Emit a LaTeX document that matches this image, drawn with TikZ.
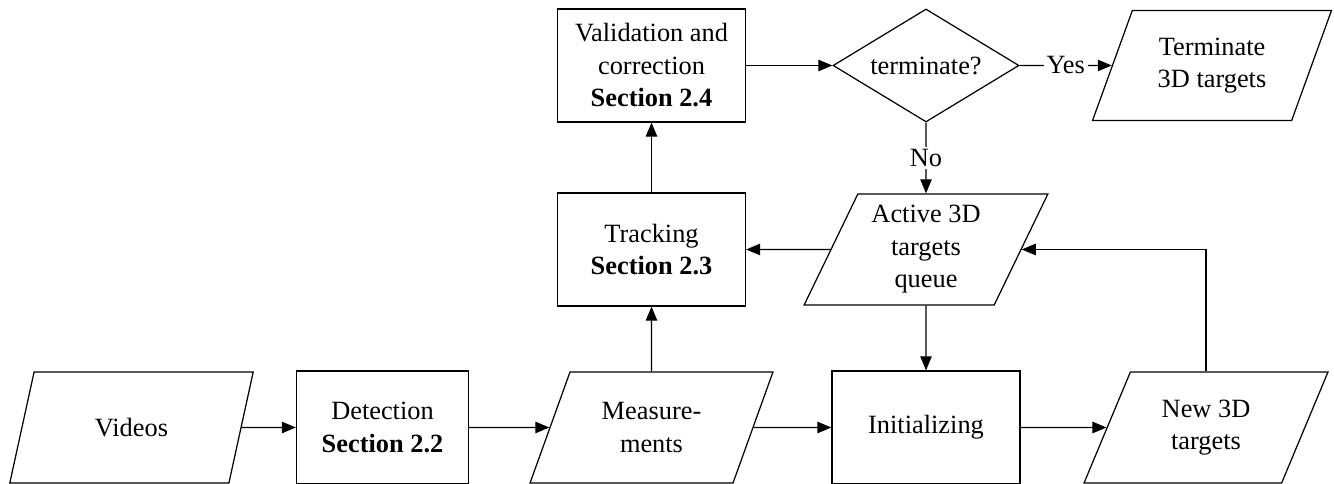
\documentclass[tikz,border=0pt]{standalone}
\usepackage{fontspec}
\setmainfont{Liberation Serif}
\usepackage{tikz}
\usetikzlibrary{shapes,arrows.meta,positioning,calc}
\tikzstyle{block} = [draw, rectangle, minimum width=3.76cm, minimum height=2.26cm, align=center]
\tikzstyle{io} = [draw, trapezium, trapezium left angle=64, trapezium right angle=116, trapezium stretches=true, minimum width=4.88cm, minimum height=2.22cm, inner sep=0pt, align=center]
\tikzstyle{decision} = [draw, diamond, minimum width=3.72cm, minimum height=2.26cm, inner sep=0pt, aspect=1.65]
\tikzstyle{onlabel} = [fill=white, inner sep=1.5pt, midway]

\begin{document}
\begin{tikzpicture}[node distance=5.49cm, >={Triangle[length=8pt,width=6.5pt]}, line width=0.7pt, font=\fontsize{15}{18.5}\selectfont]
    \useasboundingbox (0,0) rectangle (26.68,9.68);
    % Bottom row
    \node [io] (videos) at (2.63,1.13) {Videos};
    \node [block, right of=videos, node distance=5.02cm, minimum width=3.44cm] (detection) {Detection\\\textbf{Section 2.2}};
    \node [io, right of=detection, node distance=5.38cm] (meas) {Measure-\\ments};
    \node [block, right of=meas] (init) {Initializing};
    \node [io, right of=init, node distance=5.6cm] (newtargets) {New 3D\\targets};
    % Middle row
    \node [block, above of=meas, node distance=3.56cm] (tracking) {Tracking\\\textbf{Section 2.3}};
    \node [io, right of=tracking] (active) {Active 3D\\targets\\queue};
    % Top row
    \node [block, above of=tracking, node distance=3.68cm] (valid) {Validation and\\correction\\\textbf{Section 2.4}};
    \node [decision, right of=valid] (term) {terminate?};
    \node [io, right of=term, node distance=5.72cm, minimum width=4.82cm, minimum height=2.2cm] (termtargets) {Terminate\\3D targets};

    % Connections
    \draw [->] (videos) -- (detection);
    \draw [->] (detection) -- (meas);
    \draw [->] (meas) -- (init);
    \draw [->] (init) -- (newtargets);
    \draw [->] (meas) -- (tracking);
    \draw [->] (tracking) -- (valid);
    \draw [->] (valid) -- (term);
    \draw [->] (term) -- node [onlabel] {Yes} (termtargets);
    \draw [->] (term) -- node [onlabel] {No} (active);
    \draw [->] (active) -- (tracking);
    \draw [->] (active) -- (init);
    \draw [->] (newtargets) |- (active);
\end{tikzpicture}
\end{document}
